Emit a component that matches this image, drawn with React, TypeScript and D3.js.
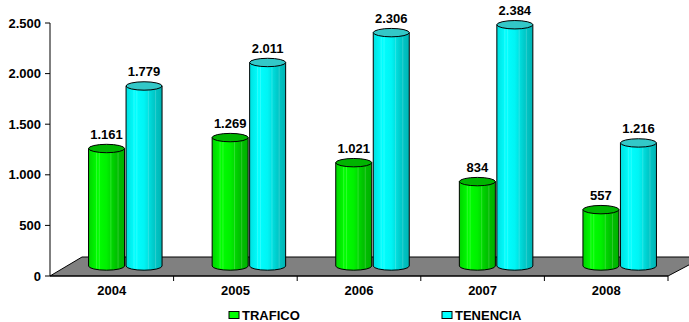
import React from 'react';
import * as d3 from 'd3';

const years = ['2004', '2005', '2006', '2007', '2008'];
const trafico = [1161, 1269, 1021, 834, 557];
const tenencia = [1779, 2011, 2306, 2384, 1216];
const yTicks = [0, 500, 1000, 1500, 2000, 2500];
const seriesNames = ['TRAFICO', 'TENENCIA'];

const W = 689;
const H = 322;
const FONT = "'Liberation Sans', Arial, Helvetica, sans-serif";

const esLocale = d3.formatLocale({ decimal: ',', thousands: '.', grouping: [3], currency: ['', ''] });
const fmt = esLocale.format(',d');

// front edge of the floor
const x0 = 50;
const x1 = 668;
const yScale = d3.scaleLinear().domain([0, 2500]).range([276, 23]);
const xScale = d3.scaleBand<string>().domain(years).range([x0, x1]);

// depth offsets: back of floor and middle (where the cylinders stand)
const backDx = 32;
const backDy = -19;
const midDx = 13.5;
const midDy = -10;

const barW = 36;
const barGap = 1.5;
const ry = 4.2;

const palettes = [
  { id: 'gGreen', stops: ['#00d400', '#00ff00', '#00f000', '#00c400', '#00b000'], top: '#00b400' },
  { id: 'gCyan', stops: ['#00e0e0', '#00ffff', '#00f4f4', '#00cccc', '#00b4b4'], top: '#33c8c8' },
];

function Cylinder({ cx, value, pal }: { cx: number; value: number; pal: (typeof palettes)[number] }) {
  const rx = barW / 2;
  const base = yScale(0) + midDy;
  const top = yScale(value) + midDy;
  const l = cx - rx;
  const r = cx + rx;
  const body = `M${l},${top} L${l},${base} A${rx},${ry} 0 0 0 ${r},${base} L${r},${top} Z`;
  const hl = [0.22, 0.3, 0.62, 0.82];
  return (
    <g>
      <path d={body} fill={`url(#${pal.id})`} stroke="#000" strokeWidth={1} />
      {hl.map((f, i) => (
        <line
          key={i}
          x1={l + barW * f}
          x2={l + barW * f}
          y1={top + ry}
          y2={base + ry * Math.sin(Math.acos(Math.abs(f * 2 - 1))) - 1}
          stroke="#ffffff"
          strokeOpacity={0.18}
          strokeWidth={1}
        />
      ))}
      <ellipse cx={cx} cy={top} rx={rx} ry={ry} fill={pal.top} stroke="#000" strokeWidth={1} />
    </g>
  );
}

export default function App() {
  const bw = xScale.bandwidth();
  const floor = [
    [x0, yScale(0)],
    [x0 + backDx, yScale(0) + backDy],
    [x1 + backDx + 4, yScale(0) + backDy],
    [x1, yScale(0)],
  ];
  const series = [trafico, tenencia];

  return (
    <svg
      width={W}
      height={H}
      style={{ position: 'absolute', left: 0, top: 0, background: '#fff' }}
      fontFamily={FONT}
    >
      <defs>
        {palettes.map((p) => (
          <linearGradient key={p.id} id={p.id} x1="0" x2="1" y1="0" y2="0">
            {p.stops.map((c, i) => (
              <stop key={i} offset={`${(i / (p.stops.length - 1)) * 100}%`} stopColor={c} />
            ))}
          </linearGradient>
        ))}
      </defs>

      {/* floor */}
      <polygon points={floor.map((p) => p.join(',')).join(' ')} fill="#808080" stroke="#000" strokeWidth={1} />

      {/* value axis */}
      <line x1={x0} x2={x0} y1={yScale(2500)} y2={yScale(0)} stroke="#000" strokeWidth={1} />
      {yTicks.map((t) => (
        <g key={t}>
          <line x1={x0 - 5} x2={x0} y1={yScale(t)} y2={yScale(t)} stroke="#000" />
          <text
            x={41}
            y={yScale(t)}
            dy="0.35em"
            textAnchor="end"
            fontSize={13}
            fontWeight="bold"
            fill="#000"
          >
            {fmt(t)}
          </text>
        </g>
      ))}

      {/* category axis */}
      <line x1={x0} x2={x1} y1={yScale(0)} y2={yScale(0)} stroke="#000" strokeWidth={1.2} />
      {years.map((y, i) => (
        <line
          key={y}
          x1={x0 + bw * (i + 1)}
          x2={x0 + bw * (i + 1)}
          y1={yScale(0)}
          y2={yScale(0) + 5}
          stroke="#000"
        />
      ))}
      {years.map((y) => (
        <text
          key={y}
          x={(xScale(y) as number) + bw / 2}
          y={295}
          textAnchor="middle"
          fontSize={13}
          fontWeight="bold"
          fill="#000"
        >
          {y}
        </text>
      ))}

      {/* cylinders */}
      {years.map((y, i) => {
        const c = (xScale(y) as number) + bw / 2 + midDx;
        return (
          <g key={y}>
            {series.map((s, k) => {
              const cx = k === 0 ? c - barGap / 2 - barW / 2 : c + barGap / 2 + barW / 2;
              return <Cylinder key={k} cx={cx} value={s[i]} pal={palettes[k]} />;
            })}
          </g>
        );
      })}

      {/* value labels */}
      {years.map((y, i) => {
        const c = (xScale(y) as number) + bw / 2 + midDx;
        return series.map((s, k) => {
          const cx = k === 0 ? c - barGap / 2 - barW / 2 : c + barGap / 2 + barW / 2;
          return (
            <text
              key={`${y}-${k}`}
              x={cx}
              y={yScale(s[i]) + midDy - 9.5}
              textAnchor="middle"
              fontSize={13}
              fontWeight="bold"
              fill="#000"
            >
              {fmt(s[i])}
            </text>
          );
        });
      })}

      {/* legend */}
      {seriesNames.map((n, k) => {
        const lx = k === 0 ? 229 : 442;
        return (
          <g key={n}>
            <rect x={lx} y={311.5} width={10} height={7} fill={k === 0 ? '#00ff00' : '#00ffff'} stroke="#000" />
            <text x={lx + 13} y={319.5} fontSize={13} fontWeight="bold" fill="#000">
              {n}
            </text>
          </g>
        );
      })}
    </svg>
  );
}
